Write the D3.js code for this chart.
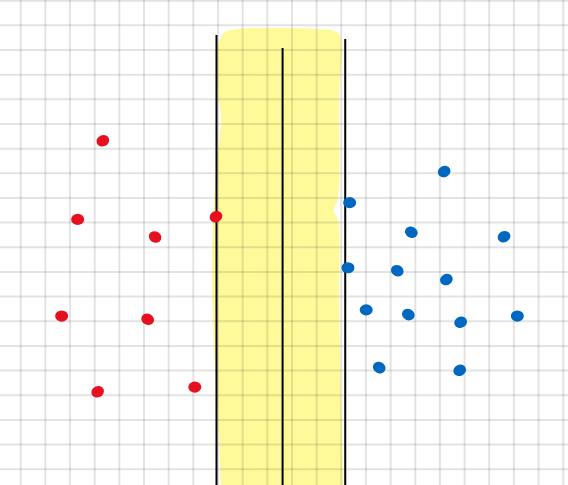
<!DOCTYPE html>
<html>
<head>
<meta charset="utf-8">
<script src="https://cdn.jsdelivr.net/npm/d3@7"></script>
<style>
html,body{margin:0;padding:0;background:#fff;overflow:hidden}
svg{display:block}
</style>
</head>
<body>
<script>
// Data in grid-paper units (one unit = one square)
const redX = [3.33, 2.31, 5.45, 7.92, 1.66, 5.15, 3.12, 7.06];
const redY = [5.68, 8.87, 9.58, 8.76, 12.79, 12.92, 15.86, 15.67];
const blueX = [17.17, 13.34, 15.84, 19.60, 13.27, 15.27, 17.26, 14.01, 15.72, 17.84, 20.14, 14.54, 17.80];
const blueY = [6.93, 8.19, 9.39, 9.57, 10.83, 10.95, 11.31, 12.54, 12.73, 13.04, 12.79, 14.88, 14.99];
const lineX = [7.94, 10.62, 13.16];
const lineTop = [1.39, 1.92, 1.55];
const bandX = [8.00, 8.24, 8.65, 12.14, 12.71, 12.95, 12.91, 12.87, 12.70, 12.87, 12.91, 12.99, 13.07, 13.07, 8.12, 8.12, 8.00, 7.80, 7.76, 7.92, 8.12, 8.00];
const bandY = [1.80, 1.31, 1.17, 1.15, 1.23, 1.43, 4.03, 7.95, 8.55, 8.90, 12.14, 16.19, 19.84, 22.0, 22.0, 19.84, 17.00, 13.35, 10.11, 6.87, 4.76, 3.83];
const gridCols = d3.range(0, 23);
const gridRows = d3.range(0, 20);

const W = 568, H = 485;
const unit = 24.66;
const x = d3.scaleLinear().domain([0, 1]).range([20.7, 20.7 + unit]);
const y = d3.scaleLinear().domain([0, 1]).range([0.67, 0.67 + unit]);

const svg = d3.select("body").append("svg").attr("width", W).attr("height", H);
svg.append("rect").attr("width", W).attr("height", H).attr("fill", "#fff");

// yellow highlight band
const band = bandX.map((v, i) => [x(v), y(bandY[i])]);
svg.append("path")
  .attr("d", d3.line().curve(d3.curveCatmullRomClosed.alpha(0.5))(band))
  .attr("fill", "#fffa99");

// grid
const g = svg.append("g").attr("stroke", "#000").attr("stroke-opacity", 0.11).attr("stroke-width", 2);
g.selectAll("line.v").data(gridCols).join("line").attr("class", "v")
  .attr("x1", d => x(d)).attr("x2", d => x(d)).attr("y1", 0).attr("y2", H);
g.selectAll("line.h").data(gridRows).join("line").attr("class", "h")
  .attr("y1", d => y(d)).attr("y2", d => y(d)).attr("x1", 0).attr("x2", W);

// vertical black lines
svg.selectAll("line.k").data(lineX).join("line").attr("class", "k")
  .attr("x1", d => x(d)).attr("x2", d => x(d))
  .attr("y1", (d, i) => y(lineTop[i])).attr("y2", H)
  .attr("stroke", "#000").attr("stroke-width", 2);

// dots
function dots(xs, ys, color) {
  svg.append("g").selectAll("ellipse").data(xs.map((v, i) => [v, ys[i]])).join("ellipse")
    .attr("cx", d => x(d[0])).attr("cy", d => y(d[1]))
    .attr("rx", 6.5).attr("ry", 5.6)
    .attr("transform", (d, i) => `rotate(${(i % 3 - 1) * 25} ${x(d[0])} ${y(d[1])})`)
    .attr("fill", color);
}
dots(redX, redY, "#e8101f");
dots(blueX, blueY, "#0068c0");
</script>
</body>
</html>
